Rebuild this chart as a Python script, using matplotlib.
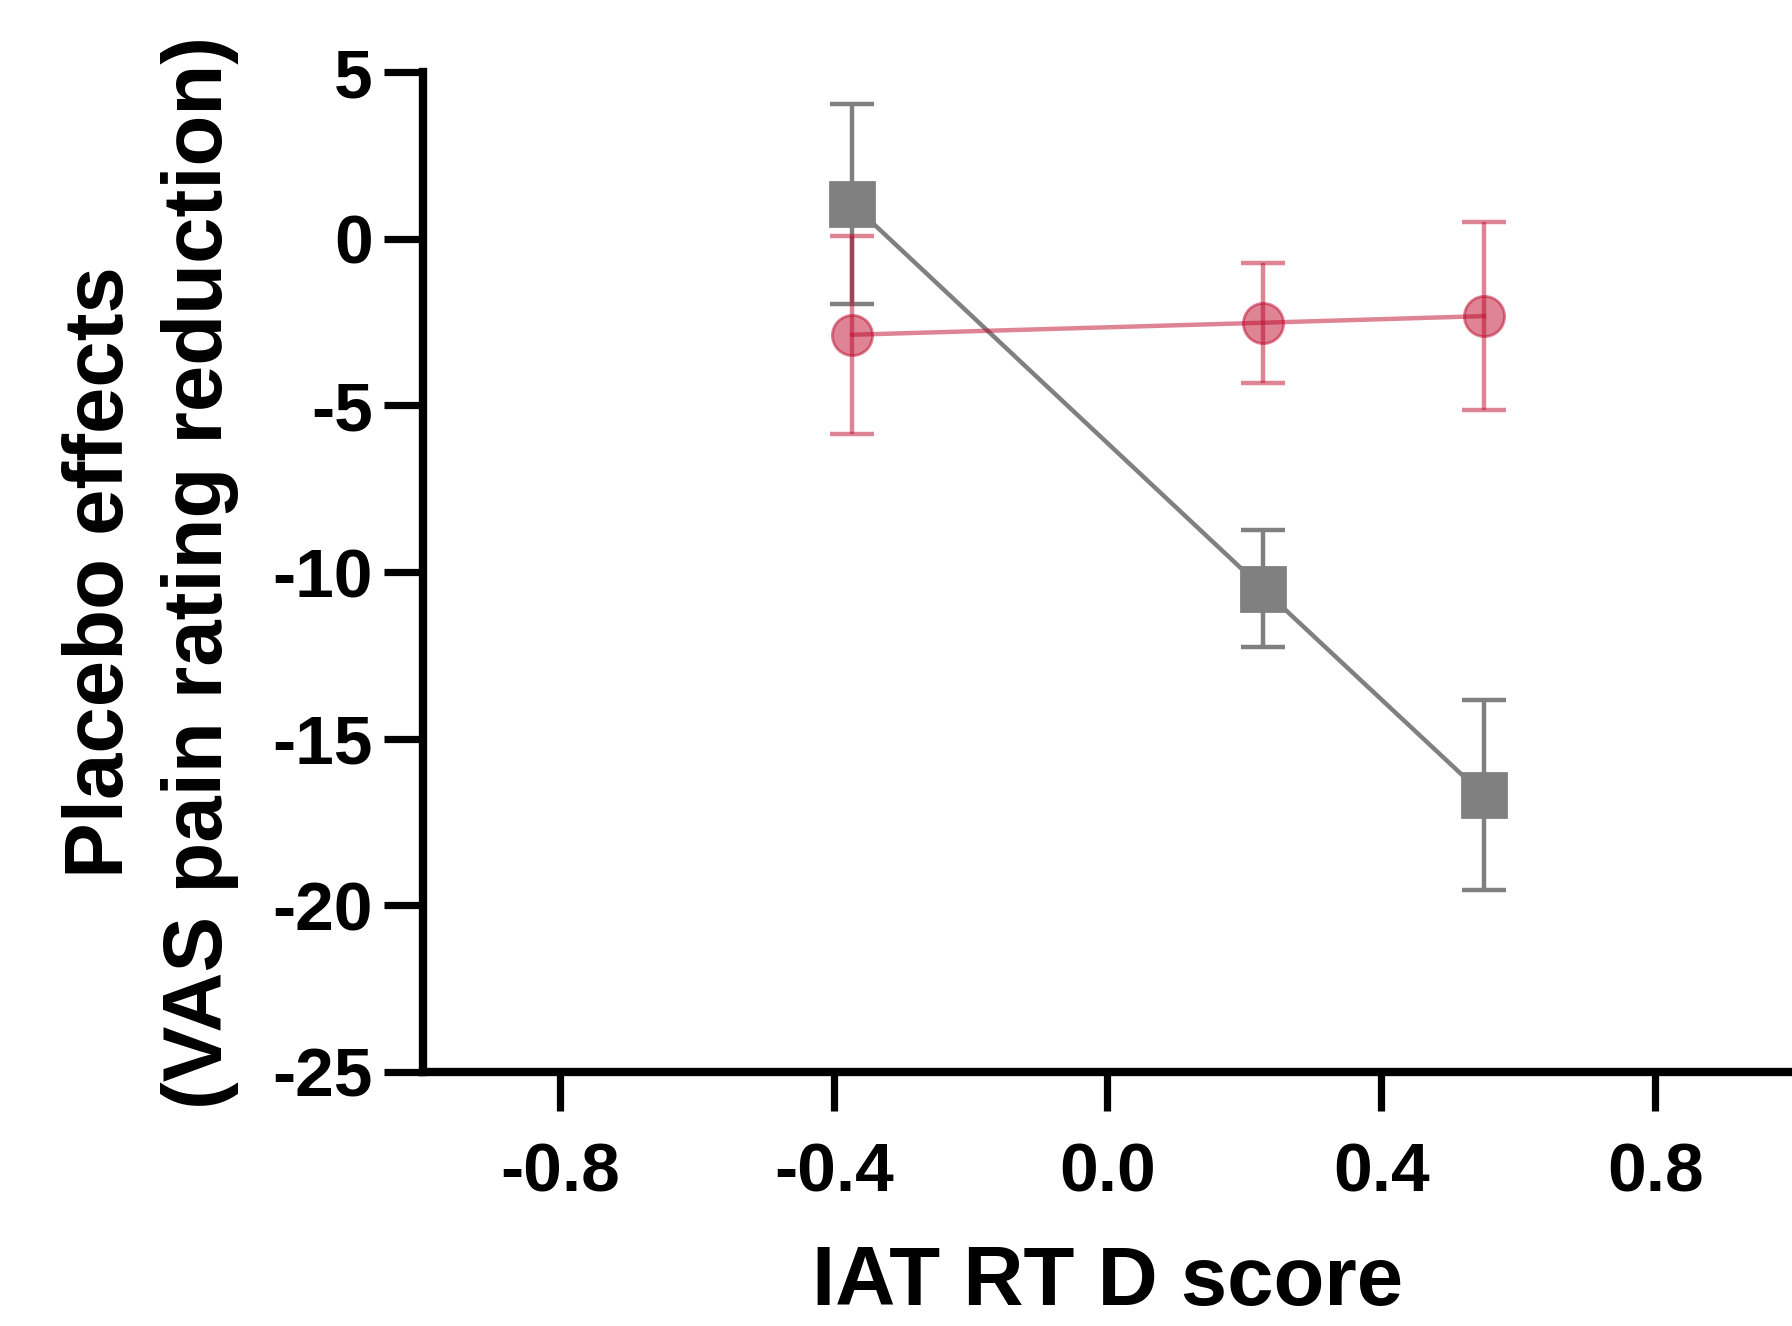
import matplotlib
matplotlib.use('Agg')
import matplotlib.pyplot as plt

plt.rcParams['font.family'] = ['Liberation Sans', 'DejaVu Sans']
plt.rcParams['font.weight'] = 'bold'
plt.rcParams['axes.unicode_minus'] = False

# IAT RT D score groups
iat_x = [-0.373, 0.227, 0.55]

# gray series (squares)
gray_y = [1.05, -10.5, -16.7]
gray_err = [3.0, 1.75, 2.85]

# red series (circles)
red_y = [-2.88, -2.52, -2.32]
red_err = [2.97, 1.8, 2.82]

xticks = [-0.8, -0.4, 0.0, 0.4, 0.8]
yticks = [5, 0, -5, -10, -15, -20, -25]

fig = plt.figure(figsize=[8.96, 6.63], dpi=200)
ax = fig.add_axes([0.236, 0.1916, 0.764, 0.754])

ax.errorbar(iat_x, gray_y, yerr=gray_err, color='#808080', marker='s',
            markersize=16, lw=1.6, elinewidth=1.6, capsize=8, capthick=1.6,
            zorder=2)
ax.errorbar(iat_x, red_y, yerr=red_err, color='#BE0A2D', marker='o',
            markersize=14.5, lw=1.6, elinewidth=1.6, capsize=8, capthick=1.6,
            alpha=0.5, zorder=3)

ax.set_xlim(-1.0, 1.0)
ax.set_ylim(-25, 5)
ax.set_xticks(xticks)
ax.set_xticklabels(['{:.1f}'.format(v) for v in xticks])
ax.set_yticks(yticks)

for s in ['top', 'right']:
    ax.spines[s].set_visible(False)
for s in ['left', 'bottom']:
    ax.spines[s].set_linewidth(3.0)
ax.tick_params(axis='x', length=14, width=2.6, pad=11, labelsize=25)
ax.tick_params(axis='y', length=14, width=2.6, pad=4, labelsize=25)

ax.set_xlabel('IAT RT D score', fontsize=30, fontweight='bold', labelpad=14)
ax.set_ylabel('Placebo effects\n(VAS pain rating reduction)', fontsize=30,
              fontweight='bold', labelpad=12, linespacing=1.35)

fig.savefig('out.png', dpi=200)
